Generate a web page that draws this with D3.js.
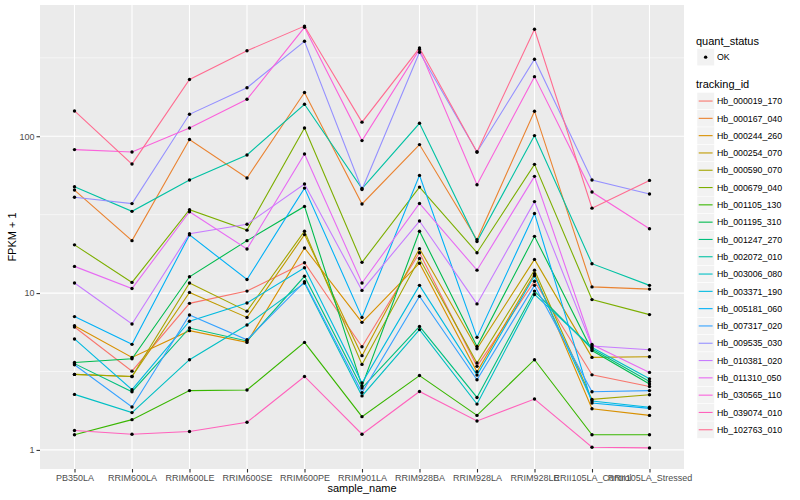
<!DOCTYPE html>
<html>
<head>
<meta charset="utf-8">
<script src="https://cdn.jsdelivr.net/npm/d3@7"></script>
<style>
  body { margin: 0; background: #fff; }
  text { font-family: "Liberation Sans", Arial, Helvetica, sans-serif; }
</style>
</head>
<body>
<svg id="chart" width="800" height="500"></svg>
<script>
// samples on the x axis
var samples = ['PB350LA', 'RRIM600LA', 'RRIM600LE', 'RRIM600SE', 'RRIM600PE', 'RRIM901LA',
  'RRIM928BA', 'RRIM928LA', 'RRIM928LE', 'RRII105LA_Control', 'RRII105LA_Stressed'];

var trackingIds = ['Hb_000019_170', 'Hb_000167_040', 'Hb_000244_260', 'Hb_000254_070', 'Hb_000590_070',
  'Hb_000679_040', 'Hb_001105_130', 'Hb_001195_310', 'Hb_001247_270', 'Hb_002072_010',
  'Hb_003006_080', 'Hb_003371_190', 'Hb_005181_060', 'Hb_007317_020', 'Hb_009535_030',
  'Hb_010381_020', 'Hb_011310_050', 'Hb_030565_110', 'Hb_039074_010', 'Hb_102763_010'];

// FPKM + 1, one value per sample
var hb_000019_170 = [6.08, 3.18, 8.6, 10.3, 15.6, 4.55, 18.1, 3.41, 11.9, 3.01, 2.54];
var hb_000167_040 = [45.4, 21.6, 95.3, 54.2, 190, 37.0, 88.5, 21.9, 144.5, 10.95, 10.6];
var hb_000244_260 = [6.2, 3.89, 5.76, 4.85, 19.4, 6.51, 15.5, 3.15, 13.3, 1.83, 1.66];
var hb_000254_070 = [3.03, 2.94, 10.1, 7.0, 23.6, 3.99, 19.2, 4.42, 16.4, 3.89, 3.93];
var hb_000590_070 = [3.03, 2.94, 11.6, 7.67, 24.8, 3.51, 16.6, 3.58, 14.0, 2.10, 2.25];
var hb_000679_040 = [20.3, 11.7, 34.0, 25.2, 113, 15.7, 47.4, 18.1, 66.2, 9.09, 7.29];
var hb_001105_130 = [1.25, 1.56, 2.39, 2.41, 4.85, 1.63, 2.98, 1.66, 3.76, 1.25, 1.25];
var hb_001195_310 = [3.61, 3.81, 12.7, 21.6, 35.7, 2.56, 24.8, 4.57, 23.0, 4.3, 2.63];
var hb_001247_270 = [3.55, 2.35, 5.99, 4.95, 12.8, 2.48, 6.13, 2.16, 10.3, 4.4, 2.73];
var hb_002072_010 = [47.7, 33.2, 52.6, 76.0, 160, 46.4, 121, 21.3, 101, 15.4, 11.2];
var hb_003006_080 = [2.26, 1.73, 3.76, 6.26, 11.6, 2.21, 5.85, 1.96, 9.8, 4.5, 2.84];
var hb_003371_190 = [5.1, 2.42, 6.62, 8.65, 14.5, 2.67, 11.2, 3.0, 12.9, 2.05, 1.87];
var hb_005181_060 = [7.08, 4.71, 23.5, 12.2, 46.7, 7.0, 56.3, 5.22, 32.2, 1.99, 1.84];
var hb_007317_020 = [3.49, 1.88, 7.25, 5.04, 11.8, 2.32, 9.55, 2.80, 11.2, 2.35, 2.39];
var hb_009535_030 = [40.8, 37.2, 138, 204, 403, 45.8, 343, 79.4, 310, 52.6, 42.8];
var hb_010381_020 = [11.6, 6.35, 23.9, 27.5, 49.6, 10.4, 28.8, 8.53, 38.3, 4.6, 4.35];
var hb_011310_050 = [14.8, 10.7, 33.0, 19.1, 77.1, 11.6, 37.3, 14.0, 55.5, 4.7, 3.12];
var hb_030565_110 = [82.2, 79.4, 113, 172, 495, 93.8, 358, 49.1, 240, 44.1, 25.7];
var hb_039074_010 = [1.33, 1.26, 1.31, 1.50, 2.94, 1.26, 2.36, 1.53, 2.11, 1.04, 1.03];
var hb_102763_010 = [145, 66.5, 230, 351, 504, 123, 365, 79.4, 481, 34.8, 52.3];

var allValues = [hb_000019_170, hb_000167_040, hb_000244_260, hb_000254_070, hb_000590_070,
  hb_000679_040, hb_001105_130, hb_001195_310, hb_001247_270, hb_002072_010,
  hb_003006_080, hb_003371_190, hb_005181_060, hb_007317_020, hb_009535_030,
  hb_010381_020, hb_011310_050, hb_030565_110, hb_039074_010, hb_102763_010];

// ggplot default hue palette for 20 levels
var palette = ['#F8766D', '#EA8331', '#D89000', '#C09B00', '#A3A500', '#7CAE00', '#39B600', '#00BB4E',
  '#00BF7D', '#00C1A3', '#00BFC4', '#00BAE0', '#00B0F6', '#35A2FF', '#9590FF', '#C77CFF',
  '#E76BF3', '#FA62DB', '#FF62BC', '#FF6C91'];

var series = trackingIds.map(function(id, i) {
  return {
    id: id,
    color: palette[i],
    points: samples.map(function(s, j) { return { sample: s, value: allValues[i][j] }; })
  };
});

var panel = { left: 40, right: 684, top: 5, bottom: 469 };
var svg = d3.select('#chart');

svg.append('rect').attr('width', 800).attr('height', 500).attr('fill', '#fff');

var xScale = d3.scalePoint()
  .domain(samples)
  .range([panel.left, panel.right])
  .padding(0.6);

// log scale with ggplot-style 5% expansion in log space
var flat = d3.merge(allValues);
var lo = Math.log10(d3.min(flat)), hi = Math.log10(d3.max(flat));
var pad = (hi - lo) * 0.05;
var yScale = d3.scaleLog()
  .domain([Math.pow(10, lo - pad), Math.pow(10, hi + pad)])
  .range([panel.bottom, panel.top]);

svg.append('rect')
  .attr('x', panel.left).attr('y', panel.top)
  .attr('width', panel.right - panel.left).attr('height', panel.bottom - panel.top)
  .attr('fill', '#EBEBEB');

var majorY = [1, 10, 100];
var minorY = [Math.sqrt(10), Math.sqrt(1000), Math.sqrt(100000)];

var grid = svg.append('g');
grid.selectAll('line.minor')
  .data(minorY)
  .enter().append('line')
  .attr('class', 'minor')
  .attr('x1', panel.left).attr('x2', panel.right)
  .attr('y1', function(d) { return yScale(d); })
  .attr('y2', function(d) { return yScale(d); })
  .attr('stroke', '#fff').attr('stroke-width', 0.55);
grid.selectAll('line.major')
  .data(majorY)
  .enter().append('line')
  .attr('class', 'major')
  .attr('x1', panel.left).attr('x2', panel.right)
  .attr('y1', function(d) { return yScale(d); })
  .attr('y2', function(d) { return yScale(d); })
  .attr('stroke', '#fff').attr('stroke-width', 1.1);
grid.selectAll('line.vert')
  .data(samples)
  .enter().append('line')
  .attr('class', 'vert')
  .attr('x1', function(d) { return xScale(d); })
  .attr('x2', function(d) { return xScale(d); })
  .attr('y1', panel.top).attr('y2', panel.bottom)
  .attr('stroke', '#fff').attr('stroke-width', 1.1);

var line = d3.line()
  .x(function(d) { return xScale(d.sample); })
  .y(function(d) { return yScale(d.value); });

svg.append('g')
  .selectAll('path')
  .data(series)
  .enter().append('path')
  .attr('d', function(d) { return line(d.points); })
  .attr('fill', 'none')
  .attr('stroke', function(d) { return d.color; })
  .attr('stroke-width', 1.1);

svg.append('g')
  .selectAll('circle')
  .data(d3.merge(series.map(function(s) { return s.points; })))
  .enter().append('circle')
  .attr('cx', function(d) { return xScale(d.sample); })
  .attr('cy', function(d) { return yScale(d.value); })
  .attr('r', 1.7)
  .attr('fill', '#000');

// axes
var yAxis = d3.axisLeft(yScale)
  .tickValues(majorY)
  .tickFormat(d3.format('d'))
  .tickSize(3.5)
  .tickPadding(2);
var yG = svg.append('g')
  .attr('transform', 'translate(' + panel.left + ',0)')
  .call(yAxis);

var xAxis = d3.axisBottom(xScale)
  .tickSize(3.5)
  .tickPadding(2);
var xG = svg.append('g')
  .attr('transform', 'translate(0,' + panel.bottom + ')')
  .call(xAxis);

[yG, xG].forEach(function(g) {
  g.select('.domain').remove();
  g.selectAll('.tick line').attr('stroke', '#333').attr('stroke-width', 1.1);
  g.selectAll('.tick text').attr('fill', '#4D4D4D').style('font-size', '9px');
});

svg.append('text')
  .attr('x', (panel.left + panel.right) / 2)
  .attr('y', 492)
  .attr('text-anchor', 'middle')
  .style('font-size', '11px')
  .attr('fill', '#000')
  .text('sample_name');

svg.append('text')
  .attr('transform', 'translate(16,' + ((panel.top + panel.bottom) / 2) + ') rotate(-90)')
  .attr('text-anchor', 'middle')
  .style('font-size', '11px')
  .attr('fill', '#000')
  .text('FPKM + 1');

// legends
var legend = svg.append('g');
var keySize = 17.3;
var keyX = 697;

legend.append('text')
  .attr('x', 696).attr('y', 44.5)
  .style('font-size', '11px')
  .text('quant_status');
legend.append('rect')
  .attr('x', keyX).attr('y', 48.5)
  .attr('width', keySize).attr('height', keySize)
  .attr('fill', '#F2F2F2').attr('stroke', '#fff').attr('stroke-width', 0.5);
legend.append('circle')
  .attr('cx', keyX + keySize / 2).attr('cy', 48.5 + keySize / 2)
  .attr('r', 1.7).attr('fill', '#000');
legend.append('text')
  .attr('x', 717).attr('y', 48.5 + keySize / 2 + 3.2)
  .style('font-size', '8.8px')
  .text('OK');

legend.append('text')
  .attr('x', 696).attr('y', 88)
  .style('font-size', '11px')
  .text('tracking_id');

var keys = legend.selectAll('g.key')
  .data(series)
  .enter().append('g')
  .attr('class', 'key')
  .attr('transform', function(d, i) { return 'translate(' + keyX + ',' + (92.4 + i * keySize) + ')'; });
keys.append('rect')
  .attr('width', keySize).attr('height', keySize)
  .attr('fill', '#F2F2F2').attr('stroke', '#fff').attr('stroke-width', 0.5);
keys.append('line')
  .attr('x1', 1.7).attr('x2', keySize - 1.7)
  .attr('y1', keySize / 2).attr('y2', keySize / 2)
  .attr('stroke', function(d) { return d.color; })
  .attr('stroke-width', 1.1);
keys.append('text')
  .attr('x', 20).attr('y', keySize / 2 + 3.2)
  .style('font-size', '8.8px')
  .text(function(d) { return d.id; });
</script>
</body>
</html>
